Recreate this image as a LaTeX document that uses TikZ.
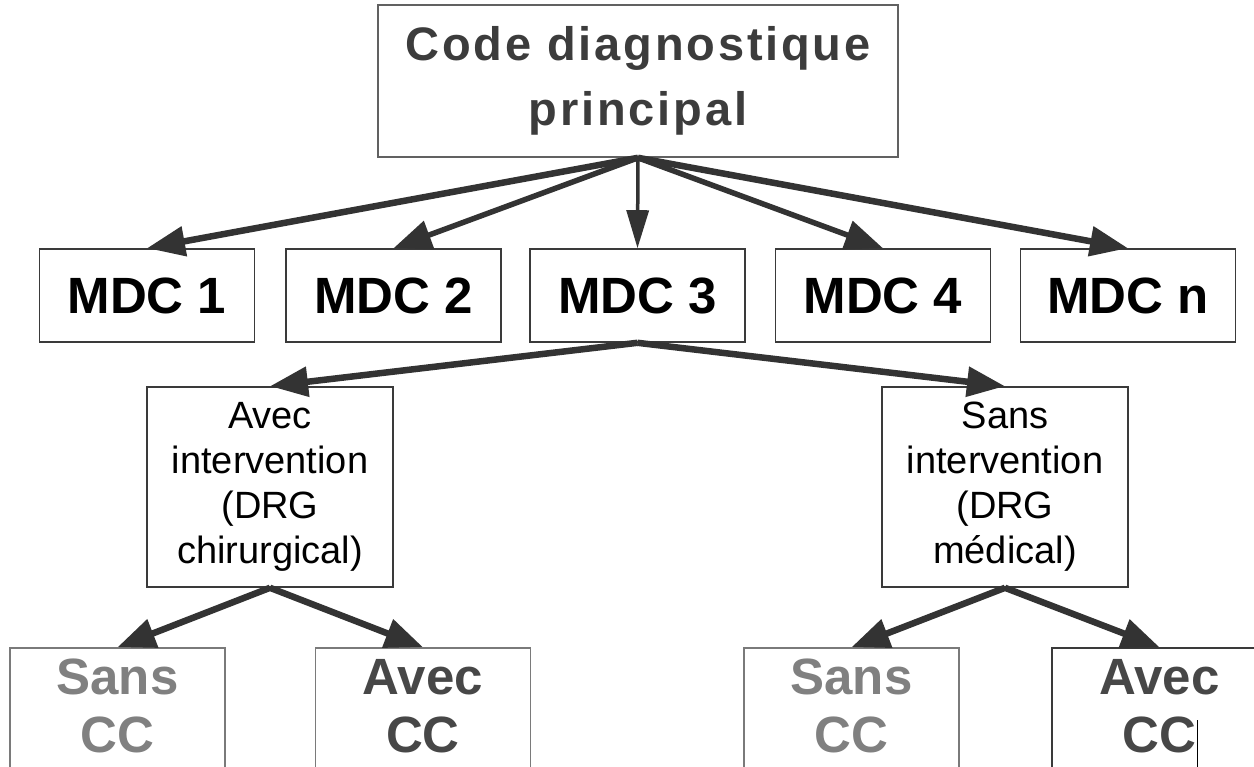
\documentclass[tikz,border=0pt]{standalone}
\usepackage{fontspec}
\setmainfont{Liberation Sans}
\usetikzlibrary{arrows.meta}
\definecolor{flechegris}{HTML}{333333}
\definecolor{cadre}{HTML}{3A3A3A}
\definecolor{cadreclair}{HTML}{7A7A7A}
\definecolor{textefonce}{HTML}{3C3C3C}
\definecolor{texteavec}{HTML}{474747}
\definecolor{textesans}{HTML}{808080}

\begin{document}
\begin{tikzpicture}[x=1pt,y=-1pt,
    boite/.style={draw=cadre,line width=1.6pt,inner sep=0pt,align=center},
    titre/.style={boite,draw=cadre!80,minimum width=520pt,minimum height=152pt,text=textefonce,
        font=\fontsize{47}{65}\selectfont\bfseries\addfontfeature{LetterSpace=6}},
    mdc/.style={boite,minimum width=215pt,minimum height=93pt,text=black,
        font=\fontsize{51}{58}\selectfont\bfseries},
    interv/.style={boite,minimum width=246pt,minimum height=200pt,text=black,
        font=\fontsize{38}{45}\selectfont},
    cc/.style={boite,draw=cadreclair,minimum width=215pt,minimum height=173pt,
        font=\fontsize{51}{58}\selectfont\bfseries},
    fleche/.style={draw=flechegris,line width=6.5pt,-{Triangle[length=38pt,width=29pt]}},
  ]
  \useasboundingbox (0,0) rectangle (1254,767);
  \fill[white] (0,0) rectangle (1254,767);
  \clip (0,0) rectangle (1254,767);

  % niveau 1
  \node[titre] (code) at (638,81) {Code diagnostique\\principal};

  % les MDC
  \node[mdc] (mdc1) at (147,295.5) {MDC 1};
  \node[mdc] (mdc2) at (393.5,295.5) {MDC 2};
  \node[mdc] (mdc3) at (637.5,295.5) {MDC 3};
  \node[mdc] (mdc4) at (883,295.5) {MDC 4};
  \node[mdc] (mdcn) at (1128,295.5) {MDC n};

  % intervention ou non
  \node[interv] (avec) at (270,487) {Avec\\intervention\\(DRG\\chirurgical)};
  \node[interv] (sans) at (1005,487) {Sans\\intervention\\(DRG\\médical)};

  % complications
  \node[cc,text=textesans] (sanscc1) at (117.5,734.5) {Sans\\CC\\\mbox{}};
  \node[cc,text=texteavec] (aveccc1) at (423,734.5) {Avec\\CC\\\mbox{}};
  \node[cc,text=textesans] (sanscc2) at (851.5,734.5) {Sans\\CC\\\mbox{}};
  \node[cc,draw=cadre,text=texteavec] (aveccc2) at (1159.5,734.5) {Avec\\CC\\\mbox{}};
  \draw[line width=1pt] (1197,720) -- (1197,767);

  \draw[fleche] (code.south) -- (mdc1.north);
  \draw[fleche,line width=5.5pt] (code.south) -- (mdc2.north);
  \draw[fleche,line width=3.5pt,-{Triangle[length=38pt,width=22pt]}] (code.south) -- (mdc3.north);
  \draw[fleche,line width=5.5pt] (code.south) -- (mdc4.north);
  \draw[fleche] (code.south) -- (mdcn.north);

  \draw[fleche] (mdc3.south) -- (avec.north);
  \draw[fleche] (mdc3.south) -- (sans.north);

  \draw[fleche] (avec.south) -- (sanscc1.north);
  \draw[fleche] (avec.south) -- (aveccc1.north);
  \draw[fleche] (sans.south) -- (sanscc2.north);
  \draw[fleche] (sans.south) -- (aveccc2.north);
\end{tikzpicture}
\end{document}
